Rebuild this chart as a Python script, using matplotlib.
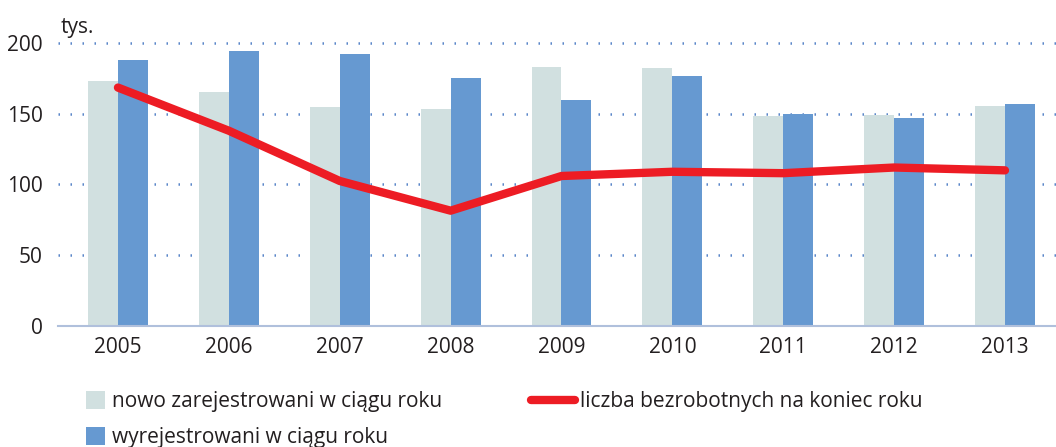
#!/usr/bin/env python3
"""Bezrobotni: nowo zarejestrowani, wyrejestrowani i liczba na koniec roku (tys.)."""

import matplotlib
matplotlib.use("Agg")
import matplotlib.pyplot as plt
import numpy as np

years = ["2005", "2006", "2007", "2008", "2009", "2010", "2011", "2012", "2013"]
registered = [173, 165.5, 155, 153.5, 183, 182, 148.5, 149, 155.5]
deregistered = [188, 194, 192.5, 175, 160, 177, 150, 147, 157]
unemployed_end = [168.5, 138, 102.5, 81.5, 106, 109, 108, 112, 110]

LIGHT = "#D1E0E0"
BLUE = "#6699D1"
RED = "#ED1C24"
GRID = "#5B87C9"
TEXT = "#231F20"

plt.rcParams["font.family"] = ["Open Sans", "DejaVu Sans"]

fig = plt.figure(figsize=(10.56, 4.47), dpi=100)
ax = fig.add_axes([0.055, 0.2707, 0.945, 0.6331 * 1.01])

x = np.arange(len(years))
w = 0.27
b1 = ax.bar(x - w / 2, registered, width=w, color=LIGHT, zorder=2)
b2 = ax.bar(x + w / 2, deregistered, width=w, color=BLUE, zorder=2)
(ln,) = ax.plot(x, unemployed_end, color=RED, lw=6, solid_capstyle="round", zorder=3)

ax.set_xlim(-0.54, 8.46)
ax.set_ylim(0, 202)
ax.set_yticks([0, 50, 100, 150, 200])
ax.set_xticks(x)
ax.set_xticklabels(years)

for yv in [50, 100, 150, 200]:
    ax.axhline(yv, color=GRID, lw=1.8, linestyle=(0, (0.6, 4.2)), zorder=1)

for s in ["top", "right", "left"]:
    ax.spines[s].set_visible(False)
ax.spines["bottom"].set_color("#B0C0DC")
ax.spines["bottom"].set_linewidth(1.5)
ax.tick_params(axis="both", length=0, labelsize=15, colors=TEXT)
ax.tick_params(axis="x", pad=8)
ax.tick_params(axis="y", pad=11)

fig.text(0.057, 0.915, "tys.", fontsize=15, color=TEXT, va="bottom")

# bar legend (left column)
fig.legend([b1, b2], ["nowo zarejestrowani w ciągu roku", "wyrejestrowani w ciągu roku"],
           loc="upper left", bbox_to_anchor=(0.081, 0.125),
           frameon=False, fontsize=15, labelcolor=TEXT,
           handlelength=0.95, handleheight=0.95, handletextpad=0.3,
           borderaxespad=0, borderpad=0, labelspacing=0.72)

# line legend (right column)
fig.legend([ln], ["liczba bezrobotnych na koniec roku"],
           loc="upper left", bbox_to_anchor=(0.503, 0.125),
           frameon=False, fontsize=15, labelcolor=TEXT,
           handlelength=2.1, handletextpad=0.25,
           borderaxespad=0, borderpad=0)

fig.savefig("out.png", dpi=100)
